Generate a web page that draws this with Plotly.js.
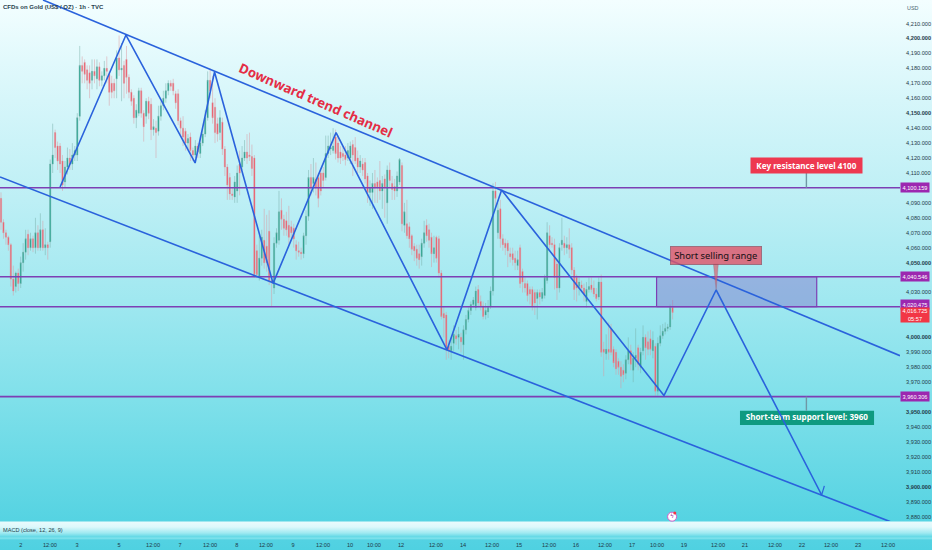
<!DOCTYPE html>
<html>
<head>
<meta charset="utf-8">
<script src="https://cdn.plot.ly/plotly-3.0.1.min.js"></script>
<style>
html,body{margin:0;padding:0;width:932px;height:550px;overflow:hidden}
body{background:linear-gradient(to bottom,
 #f3feff 0px,#d6f6fa 100px,#bdeff5 200px,#a0e8f0 300px,#7fe0ea 400px,#55d3e2 521px,
 #e9fbfd 522px,#dcf8fb 527px,#9fe9f1 533px,#5fd7e5 537px,#86e5ee 538px,#53d2e2 540px,#4fd1e1 550px)}
#chart{width:932px;height:550px}
</style>
</head>
<body>
<div id="chart"></div>
<script>
// --- candles (US$ per oz) ---
const opens=[
4093,4077,4070,4067,4062,4039,4034,4043,4036,4050,
4057,4069,4060,4066,4060,4070,4060,4072,4060,4062,
4064,4116,4137,4128,4128,4118,4104,4114,4120,4116,
4122,4122,4148,4182,4184,4179,4177,4172,4178,4173,
4181,4172,4175,4180,4176,4170,4170,4173,4187,4179,
4182,4186,4174,4164,4160,4147,4150,4165,4150,4148,
4158,4156,4139,4140,4138,4148,4155,4160,4165,4170,
4170,4163,4163,4145,4140,4138,4130,4134,4125,4122,
4128,4123,4130,4136,4147,4172,4157,4154,4143,4137,
4144,4126,4114,4107,4096,4094,4098,4116,4114,4120,
4124,4122,4121,4120,4058,4041,4053,4065,4061,4071,
4038,4033,4063,4065,4085,4079,4078,4075,4074,4073,
4062,4058,4057,4056,4068,4081,4107,4103,4106,4107,
4110,4110,4107,4123,4126,4125,4134,4130,4124,4123,
4122,4120,4120,4129,4127,4120,4114,4116,4117,4108,
4097,4097,4103,4104,4105,4098,4106,4090,4112,4103,
4101,4098,4104,4115,4075,4076,4074,4068,4061,4059,
4056,4054,4063,4075,4072,4067,4056,4067,4066,4043,
4016,4015,3994,3991,3996,4001,4000,4000,3995,4005,
4012,4018,4022,4020,4032,4024,4021,4015,4017,4021,
4031,4098,4070,4086,4066,4063,4063,4056,4056,4053,
4048,4060,4044,4036,4036,4032,4032,4030,4026,4030,
4026,4028,4038,4068,4063,4062,4049,4033,4062,4063,
4060,4062,4060,4045,4040,4034,4035,4033,4024,4032,
4035,4033,4029,4027,4037,3992,3989,3992,4006,3992,
3990,3984,3980,3978,3976,3985,3991,3978,3986,3993,
3980,3991,4000,3997,3999,3991,3994,3964,3996,4001,
4004,4006,4007,4020];
const highs=[
4097,4079,4072,4068,4063,4048,4044,4046,4054,4063,
4072,4072,4070,4068,4080,4075,4083,4078,4073,4064,
4119,4143,4139,4131,4130,4122,4118,4127,4126,4130,
4128,4150,4195,4188,4186,4182,4182,4186,4186,4186,
4184,4178,4185,4188,4178,4175,4173,4192,4202,4197,
4185,4195,4176,4166,4162,4156,4167,4167,4152,4160,
4161,4160,4146,4145,4155,4158,4165,4170,4172,4172,
4173,4165,4166,4147,4148,4140,4136,4137,4127,4132,
4130,4135,4140,4152,4178,4180,4175,4160,4147,4152,
4147,4128,4116,4110,4100,4108,4115,4125,4128,4132,
4136,4137,4129,4122,4062,4068,4072,4086,4082,4085,
4040,4067,4073,4098,4093,4082,4084,4088,4078,4076,
4065,4064,4060,4070,4085,4112,4116,4120,4117,4110,
4112,4114,4135,4135,4137,4140,4139,4135,4128,4128,
4128,4130,4131,4132,4134,4125,4122,4120,4120,4110,
4105,4110,4112,4107,4118,4108,4109,4115,4117,4108,
4106,4111,4120,4117,4090,4092,4077,4069,4063,4062,
4062,4066,4078,4079,4076,4070,4068,4068,4068,4045,
4021,4017,3998,4000,4008,4005,4007,4003,4008,4015,
4020,4024,4027,4034,4035,4028,4024,4023,4025,4034,
4103,4104,4090,4092,4069,4066,4065,4060,4060,4058,
4058,4062,4046,4040,4038,4034,4034,4032,4032,4032,
4033,4042,4077,4075,4067,4066,4052,4063,4080,4068,
4067,4073,4063,4047,4042,4040,4038,4036,4037,4040,
4040,4038,4033,4040,4042,3997,4002,4010,4009,3994,
3992,3986,3984,3982,3988,4000,3995,3990,4006,3995,
3993,4008,4002,4004,4005,4004,3996,4000,4008,4009,
4010,4009,4022,4025];
const lows=[
4072,4066,4062,4058,4034,4028,4030,4031,4033,4044,
4052,4055,4058,4057,4056,4058,4058,4058,4055,4052,
4060,4110,4120,4112,4110,4098,4100,4109,4112,4112,
4118,4118,4145,4170,4170,4166,4160,4166,4170,4166,
4168,4168,4172,4170,4155,4160,4160,4160,4175,4158,
4160,4163,4160,4155,4143,4140,4148,4147,4131,4143,
4146,4132,4135,4120,4135,4145,4152,4157,4162,4165,
4162,4153,4142,4135,4128,4125,4126,4118,4118,4120,
4120,4120,4128,4134,4145,4160,4143,4130,4131,4132,
4122,4108,4092,4092,4092,4090,4090,4095,4112,4118,
4116,4118,4108,4040,4040,4038,4048,4046,4044,4035,
4021,4029,4060,4062,4072,4068,4068,4062,4066,4060,
4052,4054,4052,4053,4062,4078,4095,4097,4095,4087,
4095,4100,4105,4120,4122,4123,4119,4117,4116,4118,
4115,4118,4116,4108,4116,4110,4110,4108,4103,4090,
4088,4086,4090,4090,4092,4086,4080,4076,4100,4092,
4092,4094,4102,4071,4070,4066,4060,4055,4051,4048,
4046,4048,4060,4064,4060,4047,4050,4050,4040,4012,
4000,3985,3986,3985,3991,3995,3992,3990,3985,4002,
4010,4015,4020,4018,4020,4018,4012,4012,4013,4019,
4028,4088,4066,4060,4058,4055,4047,4050,4048,4045,
4045,4033,4030,4030,4024,4022,4018,4015,4012,4022,
4024,4026,4036,4058,4060,4032,4025,4030,4058,4055,
4056,4053,4042,4025,4024,4028,4030,4024,4020,4030,
4030,4027,4024,4025,3987,3974,3985,3985,3988,3980,
3975,3975,3966,3970,3972,3982,3978,3970,3980,3978,
3976,3988,3985,3988,3988,3986,3961,3961,3994,3999,
4002,4004,4005,4012];
const closes=[
4077,4070,4067,4062,4039,4031,4043,4036,4050,4057,
4066,4060,4066,4060,4070,4060,4072,4060,4062,4060,
4116,4122,4127,4118,4116,4102,4114,4120,4116,4122,
4125,4147,4182,4178,4176,4172,4170,4178,4175,4181,
4172,4175,4180,4178,4164,4164,4165,4187,4179,4180,
4170,4174,4164,4158,4147,4152,4165,4150,4141,4158,
4150,4139,4141,4137,4148,4155,4160,4165,4170,4168,
4165,4157,4145,4140,4134,4130,4133,4125,4122,4128,
4124,4130,4136,4147,4172,4165,4147,4137,4136,4147,
4126,4114,4102,4096,4095,4104,4110,4110,4120,4124,
4120,4121,4113,4042,4042,4053,4067,4050,4050,4038,
4037,4063,4070,4084,4079,4073,4072,4067,4070,4066,
4058,4057,4056,4068,4081,4107,4100,4107,4100,4093,
4098,4105,4123,4128,4127,4128,4123,4120,4120,4121,
4119,4125,4128,4122,4118,4114,4118,4112,4106,4097,
4100,4103,4100,4100,4098,4103,4100,4112,4105,4099,
4098,4108,4119,4076,4084,4068,4066,4059,4058,4053,
4052,4063,4070,4068,4065,4056,4060,4053,4043,4014,
4013,3992,3991,3994,4002,3999,4002,3997,4005,4012,
4018,4022,4025,4031,4023,4021,4014,4018,4020,4031,
4098,4093,4085,4066,4062,4060,4058,4054,4052,4050,
4052,4036,4037,4033,4028,4029,4021,4023,4030,4027,
4030,4040,4070,4062,4062,4040,4033,4060,4065,4060,
4062,4059,4045,4032,4033,4037,4033,4029,4032,4034,
4032,4029,4026,4037,3990,3990,3992,3990,3990,3983,
3979,3980,3974,3975,3985,3991,3982,3986,3988,3982,
3990,4000,3993,3992,3992,3998,3964,3996,4001,4004,
4006,4007,4020,4016.7];

// --- axes ---
const priceTicks=[4210,4200,4190,4180,4170,4160,4150,4140,4130,4120,4110,4090,4080,4070,4060,4050,4030,4000,3990,3980,3970,3950,3940,3930,3920,3910,3900,3890,3880];
const timeTickBars=[8.1,19.9,30.9,48,61.8,72.8,85,95.9,107.7,118.7,130.9,141.9,151.6,162.6,176.8,187.8,199.6,210.6,222.8,233.7,245.5,256.5,266.7,277.6,291.5,302.4,314.6,325.6,337.4,348.4,360.6];
const timeTickLabels=["2","12:00","3","5","12:00","7","12:00","8","12:00","9","12:00","10","10:00","12","12:00","14","12:00","15","12:00","16","12:00","17","10:00","19","12:00","21","12:00","22","12:00","23","12:00"];

// --- drawn levels and lines ---
const levels=[4100.159,4040.546,4020.475,3960.306];
const levelLabels=["4,100.159","4,040.546","4,020.475","3,960.306"];
const upperChannelX=[17.07,365.45], upperChannelY=[4225.75,3987.75];
const lowerChannelX=[-0.41,361.4], lowerChannelY=[4107.3,3876.7];
const zigzagX=[24.0,50.8,78.9,86.8,110.6,136.2,181.3,203.5,269.5,290.7,333.6];
const zigzagY=[4100.6,4202.3,4116.7,4177.6,4036.1,4137.0,3991.6,4098.6,3961.1,4031.7,3894.5];
const arrowBarbX=[333.6,334.7], arrowBarbY=[3894.5,3900.6];

const fmt=v=>{const s=String(v);return s[0]+","+s.slice(1)+".000"};
const fontUI='"Liberation Sans",Arial,sans-serif';
const fontNote='"Noto Sans",sans-serif';
const bars=closes.map((_,i)=>i);
const xMin=-0.41,xMax=365.45;
const blue='#2a62dc', purple='#7d3fb4';
const line=(x,y,color,width)=>({type:'scatter',mode:'lines',x:x,y:y,line:{color:color,width:width},hoverinfo:'skip',showlegend:false});

const traces=[
 // selling zone
 {type:'scatter',mode:'lines',x:[266.5,266.5,331.6,331.6,266.5],y:[4020.475,4040.546,4040.546,4020.475,4020.475],
  fill:'toself',fillcolor:'rgba(125,105,200,0.42)',line:{color:purple,width:1.2},hoverinfo:'skip',showlegend:false},
 {type:'candlestick',x:bars,open:opens,high:highs,low:lows,close:closes,whiskerwidth:0,width:0.62,
  increasing:{line:{color:'rgba(120,175,170,0.7)',width:0.7},fillcolor:'#12a088'},
  decreasing:{line:{color:'rgba(220,150,160,0.7)',width:0.7},fillcolor:'#f0505f'},
  hoverinfo:'skip',showlegend:false},
 ...levels.map(v=>line([xMin,xMax],[v,v],purple,1.6)),
 line(upperChannelX,upperChannelY,blue,1.6),
 line(lowerChannelX,lowerChannelY,blue,1.6),
 // connectors
 line([327.4,327.4],[4100.159,4110],'#6f97a5',1.4),
 line([327.4,327.4],[3960.306,3950.9],'#6f97a5',1.4),
 // support label text sits under the zig-zag, as in the picture
 {type:'scatter',mode:'text',x:[327.6],y:[3945.9],text:['<b>Short-term support level: 3960</b>'],
  textfont:{family:fontNote,size:8.1,color:'#ffffff'},textposition:'middle center',hoverinfo:'skip',showlegend:false,cliponaxis:false},
 line(zigzagX,zigzagY,blue,1.6),
 line(arrowBarbX,arrowBarbY,blue,1.2),
 // callout pointer
 {type:'scatter',mode:'lines',x:[289.6,290.7,291.6,289.6],y:[4049.1,4031.7,4049.1,4049.1],fill:'toself',
  fillcolor:'rgba(214,95,110,0.7)',line:{color:'rgba(120,90,110,0.5)',width:0.5},hoverinfo:'skip',showlegend:false},
 // small event badge
 {type:'scatter',mode:'markers+text',x:[272.8],y:[3880],text:['ϟ'],textposition:'middle center',
  textfont:{size:6,color:'#8e24aa',family:'"DejaVu Sans"'},
  marker:{size:9,color:'#ffffff',line:{color:'#d65bc8',width:1}},hoverinfo:'skip',showlegend:false,cliponaxis:false},
 {type:'scatter',mode:'markers',x:[273.9],y:[3882.4],marker:{size:3,color:'#f23645'},hoverinfo:'skip',showlegend:false,cliponaxis:false}
];

const tag=(y,text,bg,h)=>({xref:'paper',yref:'y',x:1.0167,y:y,xanchor:'center',yanchor:'middle',text:text,showarrow:false,
  bgcolor:bg,width:28,height:h,borderpad:0,font:{family:fontUI,size:5.6,color:'#ffffff'}});

const annotations=[
 {xref:'x',yref:'y',x:128,y:4159,text:'<b>Downward trend channel</b>',textangle:23.6,showarrow:false,
  font:{family:fontNote,size:13.2,color:'#e42d45'}},
 {xref:'x',yref:'y',x:290.6,y:4055.1,text:'Short selling range',showarrow:false,width:90,height:17,
  bgcolor:'rgba(226,82,102,0.8)',bordercolor:'rgba(130,70,90,0.7)',borderwidth:0.8,borderpad:0,
  font:{family:fontNote,size:9.4,color:'#141014'}},
 {xref:'x',yref:'y',x:327.4,y:4114.7,text:'<b>Key resistance level 4100</b>',showarrow:false,width:111,height:15,
  bgcolor:'#ee3850',borderpad:0,font:{family:fontNote,size:8.1,color:'#ffffff'}},
 {xref:'paper',yref:'paper',x:0.0012,y:0.9865,xanchor:'left',yanchor:'middle',text:'<b>CFDs on Gold (US$ / OZ) · 1h · TVC</b>',showarrow:false,
  font:{family:fontUI,size:6,color:'#27414d'}},
 {xref:'paper',yref:'paper',x:1.0055,y:0.9846,xanchor:'left',yanchor:'middle',text:'USD',showarrow:false,
  font:{family:fontUI,size:5.4,color:'#4a6570'}},
 {xref:'paper',yref:'paper',x:0.0012,y:-0.0173,xanchor:'left',yanchor:'middle',text:'MACD (close, 12, 26, 9)',showarrow:false,
  font:{family:fontUI,size:5.6,color:'#27414d'}},
 ...levels.map((v,i)=>tag(i===2?4021.7:v,levelLabels[i],'#9c27b0',9)),
 tag(4015,'4,016.725<br>05:57','#f23645',14)
];

const shapes=[
 {type:'rect',layer:'below',xref:'x',yref:'y',x0:300.4,x1:354.9,y0:3941.4,y1:3950.9,fillcolor:'#0f9a80',line:{width:0}}
];

const layout={
 width:932,height:550,
 margin:{l:0,r:32,t:0,b:29,pad:0},
 paper_bgcolor:'rgba(0,0,0,0)',plot_bgcolor:'rgba(0,0,0,0)',
 showlegend:false,dragmode:false,hovermode:false,
 xaxis:{type:'linear',range:[xMin,xMax],rangeslider:{visible:false},showgrid:false,zeroline:false,showline:false,
  tickmode:'array',tickvals:timeTickBars,ticktext:timeTickLabels,ticks:'outside',ticklen:18,tickcolor:'rgba(0,0,0,0)',
  tickfont:{family:fontUI,size:5.6,color:'#1e3a48'}},
 yaxis:{type:'linear',side:'right',range:[3877.1,4225.75],showgrid:false,zeroline:false,showline:false,
  tickmode:'array',tickvals:priceTicks,ticktext:priceTicks.map(v=>v%50===0?'<b>'+fmt(v)+'</b>':fmt(v)),
  ticks:'outside',ticklen:4,tickcolor:'rgba(0,0,0,0)',
  tickfont:{family:fontUI,size:5.6,color:'#1e3a48'}},
 annotations:annotations,shapes:shapes
};
Plotly.newPlot('chart',traces,layout,{displayModeBar:false,staticPlot:true});
</script>
</body>
</html>
